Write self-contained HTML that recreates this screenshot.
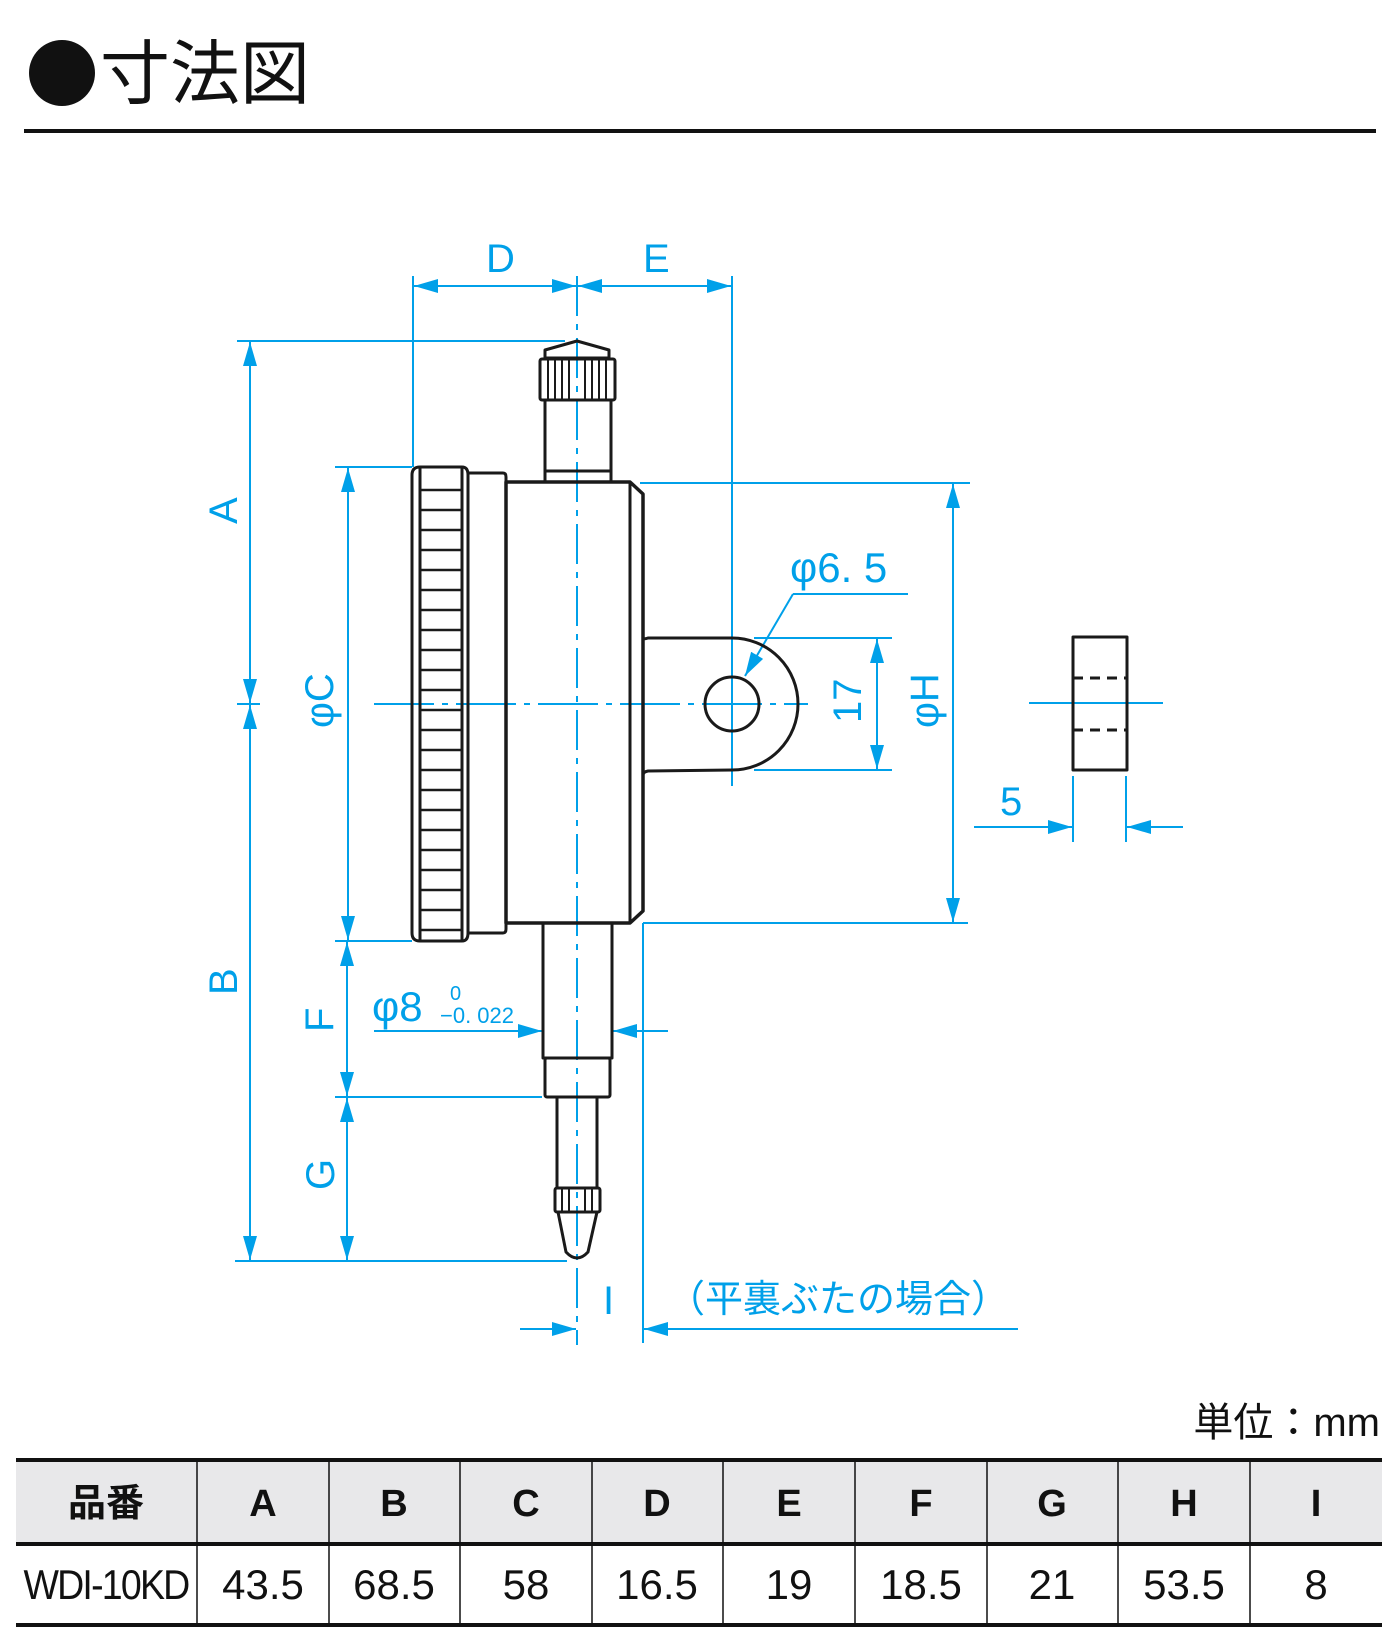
<!DOCTYPE html>
<html><head><meta charset="utf-8"><style>
html,body{margin:0;padding:0;background:#fff}
svg{display:block}
text{font-family:"Liberation Sans","Noto Sans CJK JP",sans-serif}
</style></head><body>
<svg width="1400" height="1650" viewBox="0 0 1400 1650" xmlns="http://www.w3.org/2000/svg">
<defs>
<marker id="ar" viewBox="0 0 24 14" refX="24" refY="7" markerWidth="24" markerHeight="14" markerUnits="userSpaceOnUse" orient="auto-start-reverse"><path d="M0,0 L24,7 L0,14 z" fill="#00a0e9"/></marker>
</defs>
<!-- Title -->
<circle cx="62" cy="73" r="33" fill="#111"/>
<text x="100" y="98" font-size="70" fill="#111" font-family="Noto Sans CJK JP,sans-serif">寸法図</text>
<rect x="24" y="129" width="1352" height="4" fill="#111"/>

<g stroke="#00a0e9" stroke-width="2" fill="none">
<line x1="577" y1="276" x2="577" y2="1345" stroke-dasharray="40,8,6,8"/>
<line x1="374" y1="704" x2="808" y2="704" stroke-dasharray="60,8,6,8"/>
<line x1="1029" y1="703" x2="1163" y2="703"/>
<line x1="413" y1="276" x2="413" y2="467"/>
<line x1="732" y1="276" x2="732" y2="786"/>
<line x1="577" y1="286" x2="414" y2="286" marker-end="url(#ar)"/>
<line x1="414" y1="286" x2="576" y2="286" marker-end="url(#ar)"/>
<line x1="578" y1="286" x2="731" y2="286" marker-end="url(#ar)"/>
<line x1="731" y1="286" x2="578" y2="286" marker-end="url(#ar)"/>
<line x1="237" y1="341" x2="565" y2="341"/>
<line x1="250" y1="342" x2="250" y2="703" marker-end="url(#ar)" marker-start="url(#ar)"/>
<line x1="237" y1="704" x2="260" y2="704"/>
<line x1="250" y1="705" x2="250" y2="1260" marker-end="url(#ar)" marker-start="url(#ar)"/>
<line x1="235" y1="1261" x2="567" y2="1261"/>
<line x1="335" y1="467" x2="412" y2="467"/>
<line x1="348" y1="468" x2="348" y2="940" marker-end="url(#ar)" marker-start="url(#ar)"/>
<line x1="335" y1="941" x2="412" y2="941"/>
<line x1="347" y1="942" x2="347" y2="1096" marker-end="url(#ar)" marker-start="url(#ar)"/>
<line x1="335" y1="1097" x2="542" y2="1097"/>
<line x1="347" y1="1098" x2="347" y2="1260" marker-end="url(#ar)" marker-start="url(#ar)"/>
<line x1="374" y1="1031" x2="542" y2="1031" marker-end="url(#ar)"/>
<line x1="668" y1="1031" x2="613" y2="1031" marker-end="url(#ar)"/>
<line x1="643" y1="923" x2="643" y2="1343"/>
<line x1="643" y1="923" x2="968" y2="923"/>
<line x1="520" y1="1329" x2="576" y2="1329" marker-end="url(#ar)"/>
<line x1="1018" y1="1329" x2="644" y2="1329" marker-end="url(#ar)"/>
<line x1="640" y1="483" x2="970" y2="483"/>
<line x1="953" y1="484" x2="953" y2="922" marker-end="url(#ar)" marker-start="url(#ar)"/>
<line x1="754" y1="638" x2="892" y2="638"/>
<line x1="754" y1="770" x2="892" y2="770"/>
<line x1="877" y1="639" x2="877" y2="769" marker-end="url(#ar)" marker-start="url(#ar)"/>
<line x1="908" y1="594" x2="793" y2="594"/>
<line x1="793" y1="594" x2="745" y2="676" marker-end="url(#ar)"/>
<line x1="1073" y1="776" x2="1073" y2="842"/>
<line x1="1126" y1="776" x2="1126" y2="842"/>
<line x1="974" y1="827" x2="1072" y2="827" marker-end="url(#ar)"/>
<line x1="1183" y1="827" x2="1127" y2="827" marker-end="url(#ar)"/>
</g>

<g stroke="#1a1a1a" stroke-width="3" fill="none" stroke-linejoin="round">
<path d="M545,358 L545,350 L577,341 L609,350 L609,358 Z"/>
<rect x="540" y="359" width="75" height="41" rx="2"/>
<g stroke-width="2"><path d="M548,360V399M555,360V399M562,360V399M569,360V399M585,360V399M592,360V399M599,360V399M606,360V399"/></g>
<rect x="545" y="400" width="66" height="82"/>
<line x1="545" y1="471" x2="611" y2="471"/>
<path d="M412,475 Q412,467 420,467 L462,467 Q468,467 468,475 L468,933 Q468,941 462,941 L420,941 Q412,941 412,933 Z"/>
<line x1="420" y1="467" x2="420" y2="941"/>
<line x1="462" y1="467" x2="462" y2="941"/>
<path d="M420,490H462M420,510H462M420,530H462M420,550H462M420,570H462M420,590H462M420,610H462M420,630H462M420,650H462M420,670H462M420,690H462M420,710H462M420,730H462M420,750H462M420,770H462M420,790H462M420,810H462M420,830H462M420,850H462M420,870H462M420,890H462M420,910H462M420,930H462" stroke-width="2.5"/>
<path d="M468,473 L503,473 Q506,473 506,477 L506,929 Q506,933 503,933 L468,933"/>
<path d="M506,482 L630,482 L643,494 L643,911 L630,923 L506,923 Z" stroke-width="3.5"/>
<line x1="630" y1="482" x2="630" y2="923"/>
<path d="M643,637 Q643,640 648,638 L732,638 A66,66 0 0 1 732,770 L648,771 Q643,772 643,775"/>
<circle cx="732" cy="704" r="27"/>
<rect x="543" y="923" width="69" height="135"/>
<rect x="545" y="1058" width="65" height="39" rx="2"/>
<path d="M557,1097 V1188 M597,1097 V1188"/>
<rect x="555" y="1188" width="45" height="24" rx="2"/>
<g stroke-width="2"><path d="M562,1189V1211M569,1189V1211M585,1189V1211M592,1189V1211"/></g>
<path d="M558,1212 L566,1252 Q577,1264 588,1252 L597,1212"/>
<rect x="1073" y="637" width="54" height="133"/>
<path d="M1073,678H1127M1073,730H1127" stroke-dasharray="10,7"/>
</g>

<g fill="#00a0e9" font-size="40">
<text x="486" y="272">D</text>
<text x="643" y="272">E</text>
<text transform="translate(237,524) rotate(-90)">A</text>
<text transform="translate(237,995) rotate(-90)">B</text>
<text transform="translate(333,728) rotate(-90)">φC</text>
<text transform="translate(333,1032) rotate(-90)">F</text>
<text transform="translate(334,1190) rotate(-90)">G</text>
<text transform="translate(861,723) rotate(-90)">17</text>
<text transform="translate(938,728) rotate(-90)">φH</text>
<text x="790" y="582" font-size="42">φ6. 5</text>
<text x="1000" y="815">5</text>
<text x="372" y="1021" font-size="42">φ8</text>
<text x="450" y="1000" font-size="20">0</text>
<text x="440" y="1023" font-size="22">−0. 022</text>
<text x="603" y="1314" font-family="Liberation Serif,serif">I</text>
<text x="667" y="1312" font-size="38" font-family="Noto Sans CJK JP,sans-serif">（平裏ぶたの場合）</text>
</g>

<text x="1380" y="1436" font-size="40" text-anchor="end" fill="#111" font-family="Noto Sans CJK JP,sans-serif">単位：mm</text>
<rect x="16" y="1462" width="1366" height="81" fill="#e8e8ea"/>
<rect x="16" y="1458" width="1366" height="4" fill="#111"/>
<rect x="16" y="1542" width="1366" height="4" fill="#111"/>
<rect x="16" y="1623" width="1366" height="4" fill="#111"/>
<g stroke="#111" stroke-width="1.5">
<path d="M197,1462V1623M329,1462V1623M460,1462V1623M592,1462V1623M723,1462V1623M855,1462V1623M987,1462V1623M1118,1462V1623M1250,1462V1623"/>
</g>
<g font-size="38" font-weight="bold" fill="#111" text-anchor="middle">
<text x="106" y="1516" font-family="Noto Sans CJK JP,sans-serif">品番</text>
<text x="263" y="1516">A</text><text x="394" y="1516">B</text><text x="526" y="1516">C</text>
<text x="657" y="1516">D</text><text x="789" y="1516">E</text><text x="921" y="1516">F</text>
<text x="1052" y="1516">G</text><text x="1184" y="1516">H</text><text x="1316" y="1516">I</text>
</g>
<g font-size="42" fill="#111" text-anchor="middle">
<text x="106" y="1599" textLength="165" lengthAdjust="spacingAndGlyphs" letter-spacing="-2">WDI-10KD</text>
<text x="263" y="1599">43.5</text><text x="394" y="1599">68.5</text><text x="526" y="1599">58</text>
<text x="657" y="1599">16.5</text><text x="789" y="1599">19</text><text x="921" y="1599">18.5</text>
<text x="1052" y="1599">21</text><text x="1184" y="1599">53.5</text><text x="1316" y="1599">8</text>
</g>
</svg>
</body></html>
